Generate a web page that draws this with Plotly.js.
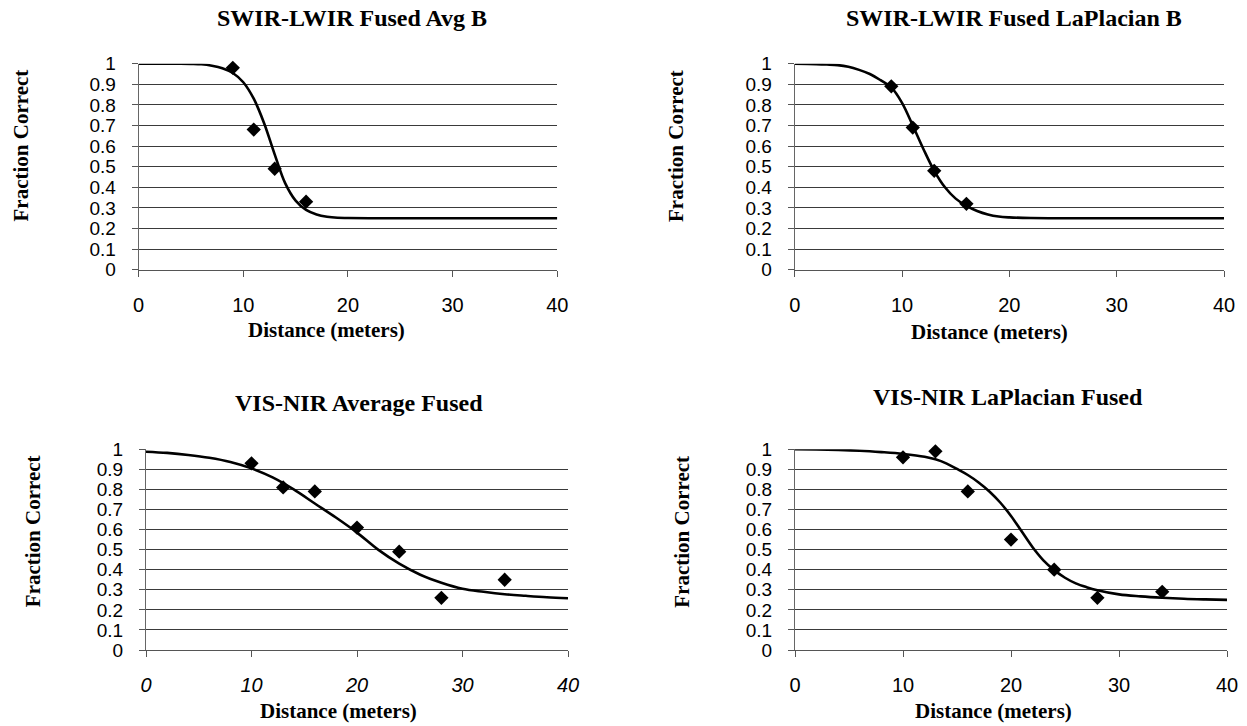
<!DOCTYPE html>
<html>
<head>
<meta charset="utf-8">
<script src="https://cdn.plot.ly/plotly-3.0.1.min.js"></script>
<style>html,body{margin:0;padding:0;background:#fff;}#chart{width:1247px;height:726px;}</style>
</head>
<body>
<div id="chart"></div>
<script>
// ---- Titles ----
var chartTitles = ["SWIR-LWIR Fused Avg B", "SWIR-LWIR Fused LaPlacian B", "VIS-NIR Average Fused", "VIS-NIR LaPlacian Fused"];
var xAxisTitle = "Distance (meters)";
var yAxisTitle = "Fraction Correct";
var xTickVals = [0, 10, 20, 30, 40];

// ---- Measured points ----
var swirAvgDist = [9, 11, 13, 16];
var swirAvgFrac = [0.98, 0.68, 0.49, 0.33];
var swirLapDist = [9, 11, 13, 16];
var swirLapFrac = [0.89, 0.69, 0.48, 0.32];
var visAvgDist = [10, 13, 16, 20, 24, 28, 34];
var visAvgFrac = [0.93, 0.81, 0.79, 0.61, 0.49, 0.26, 0.35];
var visLapDist = [10, 13, 16, 20, 24, 28, 34];
var visLapFrac = [0.96, 0.99, 0.79, 0.55, 0.40, 0.26, 0.29];

// ---- Fitted curves ----
var swirAvgFitX = [0, 2, 4, 5, 6, 7, 8, 9, 10, 11, 12, 13, 14, 15, 16, 17, 18, 19, 20, 22, 25, 30, 35, 40];
var swirAvgFitY = [1, 1, 1, 0.999, 0.997, 0.99, 0.978, 0.955, 0.91, 0.83, 0.71, 0.56, 0.42, 0.335, 0.29, 0.268, 0.257, 0.252, 0.251, 0.25, 0.25, 0.25, 0.25, 0.25];
var swirLapFitX = [0, 2, 3, 4, 5, 6, 7, 8, 9, 10, 11, 12, 13, 14, 15, 16, 17, 18, 19, 20, 22, 25, 30, 40];
var swirLapFitY = [1, 0.998, 0.996, 0.993, 0.985, 0.97, 0.95, 0.92, 0.885, 0.81, 0.70, 0.585, 0.48, 0.40, 0.345, 0.31, 0.285, 0.268, 0.258, 0.254, 0.251, 0.25, 0.25, 0.25];
var visAvgFitX = [0, 2, 4, 6, 8, 10, 12, 14, 16, 18, 20, 22, 24, 26, 28, 30, 32, 34, 36, 38, 40];
var visAvgFitY = [0.988, 0.982, 0.972, 0.958, 0.937, 0.905, 0.86, 0.80, 0.73, 0.66, 0.585, 0.5, 0.43, 0.375, 0.335, 0.305, 0.29, 0.278, 0.27, 0.263, 0.258];
var visLapFitX = [0, 2, 4, 6, 8, 10, 12, 13, 14, 15, 16, 17, 18, 19, 20, 21, 22, 23, 24, 25, 26, 27, 28, 30, 32, 34, 36, 38, 40];
var visLapFitY = [1, 0.999, 0.997, 0.993, 0.986, 0.977, 0.963, 0.95, 0.93, 0.902, 0.872, 0.835, 0.79, 0.735, 0.668, 0.59, 0.512, 0.447, 0.398, 0.36, 0.332, 0.313, 0.298, 0.277, 0.267, 0.26, 0.255, 0.252, 0.25];

var W = 1247, H = 726;
function px(a) { return a / W; }
function py(a) { return 1 - a / H; }

// plot boxes in pixels [x0, x1, yTop, yBottom]
var boxes = [
  [138.6, 557.3, 63.7, 269.7],
  [794.7, 1224, 63.7, 269.7],
  [146, 568, 449.3, 650],
  [795, 1227, 449.3, 650]
];

var ptsX = [swirAvgDist, swirLapDist, visAvgDist, visLapDist];
var ptsY = [swirAvgFrac, swirLapFrac, visAvgFrac, visLapFrac];
var fitX = [swirAvgFitX, swirLapFitX, visAvgFitX, visLapFitX];
var fitY = [swirAvgFitY, swirLapFitY, visAvgFitY, visLapFitY];

var xTickFont = {family: "Liberation Sans, Arial, sans-serif", size: 20, color: "#000"};
var yTickFont = {family: "Liberation Sans, Arial, sans-serif", size: 19, color: "#000"};
var serif = "Liberation Serif, Times New Roman, serif";

var traces = [];
var layout = {
  width: W, height: H,
  margin: {l: 0, r: 0, t: 0, b: 0},
  paper_bgcolor: "#fff", plot_bgcolor: "#fff",
  showlegend: false,
  annotations: []
};

for (var i = 0; i < 4; i++) {
  var sfx = i === 0 ? "" : String(i + 1);
  var b = boxes[i];
  traces.push({
    x: fitX[i], y: fitY[i], type: "scatter", mode: "lines",
    line: {color: "#000", width: 2.6, shape: "spline", smoothing: 1},
    xaxis: "x" + sfx, yaxis: "y" + sfx, hoverinfo: "skip"
  });
  traces.push({
    x: ptsX[i], y: ptsY[i], type: "scatter", mode: "markers",
    marker: {symbol: "diamond", size: 11, color: "#000"},
    cliponaxis: false,
    xaxis: "x" + sfx, yaxis: "y" + sfx
  });
  var xf = JSON.parse(JSON.stringify(xTickFont));
  if (i === 2) xf.style = "italic";
  layout["xaxis" + sfx] = {
    domain: [px(b[0]), px(b[1])], anchor: "y" + sfx,
    range: [0, 40], tickvals: xTickVals, ticktext: xTickVals.map(String),
    ticks: "outside", ticklen: 6, tickcolor: "#555", tickwidth: 1,
    showline: true, linecolor: "#555", linewidth: 1,
    showgrid: false, zeroline: false,
    tickfont: xf, ticklabelstandoff: 11, fixedrange: true
  };
  layout["yaxis" + sfx] = {
    domain: [py(b[3]), py(b[2])], anchor: "x" + sfx,
    range: [0, 1], dtick: 0.1, tick0: 0,
    ticks: "outside", ticklen: 6, tickcolor: "#555", tickwidth: 1,
    showline: true, linecolor: "#666", linewidth: 1,
    showgrid: true, gridcolor: "#3a3a3a", gridwidth: 1, zeroline: false,
    tickfont: yTickFont, ticklabelstandoff: 12, fixedrange: true
  };
}

// annotation positions in pixels
var titlePos = [[352, 18.3], [1013.6, 18.3], [359, 403], [1008, 396.7]];
var xTitlePos = [[326.8, 330], [989.5, 332], [338.6, 711], [993, 711]];
var yTitlePos = [[20.5, 146], [676, 146], [32.5, 531.7], [682, 531.7]];

for (var j = 0; j < 4; j++) {
  layout.annotations.push({
    text: "<b>" + chartTitles[j] + "</b>", xref: "paper", yref: "paper",
    x: px(titlePos[j][0]), y: py(titlePos[j][1]), xanchor: "center", yanchor: "middle",
    showarrow: false, font: {family: serif, size: 24, color: "#000"}
  });
  layout.annotations.push({
    text: "<b>" + xAxisTitle + "</b>", xref: "paper", yref: "paper",
    x: px(xTitlePos[j][0]), y: py(xTitlePos[j][1]), xanchor: "center", yanchor: "middle",
    showarrow: false, font: {family: serif, size: 21, color: "#000"}
  });
  layout.annotations.push({
    text: "<b>" + yAxisTitle + "</b>", xref: "paper", yref: "paper",
    x: px(yTitlePos[j][0]), y: py(yTitlePos[j][1]), xanchor: "center", yanchor: "middle",
    textangle: -90, showarrow: false, font: {family: serif, size: 21, color: "#000"}
  });
}

Plotly.newPlot("chart", traces, layout, {displayModeBar: false, staticPlot: true});
</script>
</body>
</html>
